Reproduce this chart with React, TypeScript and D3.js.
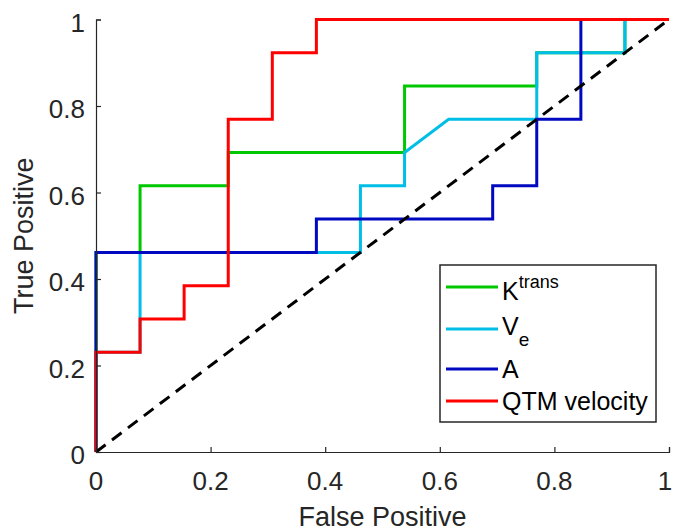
import { useEffect, useRef } from 'react';
import * as d3 from 'd3';

// ROC curves, values (steps of 1/13)
const ktransFpr = [0, 0, 0.0769, 0.0769, 0.2308, 0.2308, 0.5385, 0.5385, 0.7692, 0.7692, 0.9231, 0.9231, 1];
const ktransTpr = [0, 0.4615, 0.4615, 0.6154, 0.6154, 0.6923, 0.6923, 0.8462, 0.8462, 0.9231, 0.9231, 1, 1];

const veFpr = [0, 0, 0.0769, 0.0769, 0.4615, 0.4615, 0.5385, 0.5385, 0.6154, 0.7692, 0.7692, 0.9231, 0.9231, 1];
const veTpr = [0, 0.2308, 0.2308, 0.4615, 0.4615, 0.6154, 0.6154, 0.6923, 0.7692, 0.7692, 0.9231, 0.9231, 1, 1];

const aFpr = [0, 0, 0.3846, 0.3846, 0.6923, 0.6923, 0.7692, 0.7692, 0.8462, 0.8462, 1];
const aTpr = [0, 0.4615, 0.4615, 0.5385, 0.5385, 0.6154, 0.6154, 0.7692, 0.7692, 1, 1];

const qtmFpr = [0, 0, 0.0769, 0.0769, 0.1538, 0.1538, 0.2308, 0.2308, 0.3077, 0.3077, 0.3846, 0.3846, 1];
const qtmTpr = [0, 0.2308, 0.2308, 0.3077, 0.3077, 0.3846, 0.3846, 0.7692, 0.7692, 0.9231, 0.9231, 1, 1];

const chanceFpr = [0, 1];
const chanceTpr = [0, 1];

const seriesNames = ['Ktrans', 'Ve', 'A', 'QTM velocity'];
const seriesColors = ['#00c800', '#00bee6', '#0008c0', '#ff0000'];
const tickValues = [0, 0.2, 0.4, 0.6, 0.8, 1];

const FONT = '"Liberation Sans", Arial, Helvetica, sans-serif';
const AXIS = '#262626';

function App() {
    const ref = useRef<SVGSVGElement>(null);

    useEffect(() => {
        const svg = d3.select(ref.current);
        svg.selectAll('*').remove();

        const left = 96, right = 669, top = 19.5, bottom = 452;
        const x = d3.scaleLinear().domain([0, 1]).range([left, right]);
        const y = d3.scaleLinear().domain([0, 1]).range([bottom, top]);

        const xs = [ktransFpr, veFpr, aFpr, qtmFpr];
        const ys = [ktransTpr, veTpr, aTpr, qtmTpr];

        const line = d3.line<number[]>().x((d) => x(d[0])).y((d) => y(d[1]));

        xs.forEach((fx, i) => {
            const pts = fx.map((v, j) => [v, ys[i][j]]);
            svg.append('path')
                .attr('d', line(pts))
                .attr('fill', 'none')
                .attr('stroke', seriesColors[i])
                .attr('stroke-width', 3);
        });

        svg.append('path')
            .attr('d', line(chanceFpr.map((v, j) => [v, chanceTpr[j]])))
            .attr('fill', 'none')
            .attr('stroke', '#000')
            .attr('stroke-width', 3)
            .attr('stroke-dasharray', '12,8');

        // axes (left + bottom only, ticks pointing inward)
        const xAxis = svg.append('g').attr('transform', `translate(0,${bottom})`)
            .call(d3.axisTop(x).tickValues(tickValues).tickSize(5).tickFormat(() => ''));
        const yAxis = svg.append('g').attr('transform', `translate(${left},0)`)
            .call(d3.axisRight(y).tickValues(tickValues).tickSize(5).tickFormat(() => ''));
        [xAxis, yAxis].forEach((g) => {
            g.select('.domain').attr('stroke', AXIS).attr('stroke-width', 1.2);
            g.selectAll('.tick line').attr('stroke', AXIS).attr('stroke-width', 1.2);
        });

        svg.append('g').selectAll('text').data(tickValues).enter().append('text')
            .attr('x', (d) => Math.min(x(d), 665))
            .attr('y', bottom + 38)
            .attr('text-anchor', 'middle')
            .attr('font-family', FONT).attr('font-size', 26).attr('fill', AXIS)
            .text((d) => d3.format('~g')(d));

        svg.append('g').selectAll('text').data(tickValues).enter().append('text')
            .attr('x', left - 11)
            .attr('y', (d) => y(d) + 12)
            .attr('text-anchor', 'end')
            .attr('font-family', FONT).attr('font-size', 26).attr('fill', AXIS)
            .text((d) => d3.format('~g')(d));

        svg.append('text')
            .attr('x', (left + right) / 2).attr('y', 526)
            .attr('text-anchor', 'middle')
            .attr('font-family', FONT).attr('font-size', 27).attr('fill', AXIS)
            .text('False Positive');

        svg.append('text')
            .attr('transform', `translate(33,${(top + bottom) / 2}) rotate(-90)`)
            .attr('text-anchor', 'middle')
            .attr('font-family', FONT).attr('font-size', 27).attr('fill', AXIS)
            .text('True Positive');

        // legend
        const lg = svg.append('g');
        lg.append('rect')
            .attr('x', 440).attr('y', 265).attr('width', 216).attr('height', 157)
            .attr('fill', '#fff').attr('stroke', AXIS).attr('stroke-width', 1.5);
        const lineYs = [287, 329, 369, 401];
        const textYs = [300, 335, 377.5, 410];
        seriesNames.forEach((name, i) => {
            lg.append('line')
                .attr('x1', 446).attr('x2', 498)
                .attr('y1', lineYs[i]).attr('y2', lineYs[i])
                .attr('stroke', seriesColors[i]).attr('stroke-width', 3);
            const t = lg.append('text')
                .attr('x', 502).attr('y', textYs[i])
                .attr('font-family', FONT).attr('font-size', 25).attr('fill', '#000');
            if (name === 'Ktrans') {
                t.append('tspan').text('K');
                t.append('tspan').attr('dy', -12).attr('font-size', 18).text('trans');
            } else if (name === 'Ve') {
                t.append('tspan').text('V');
                t.append('tspan').attr('dy', 11).attr('font-size', 19).text('e');
            } else {
                t.text(name);
            }
        });
    }, []);

    return (
        <svg ref={ref} width={673} height={532}
            style={{ position: 'absolute', left: 0, top: 0, background: '#fff' }} />
    );
}

export default App;
